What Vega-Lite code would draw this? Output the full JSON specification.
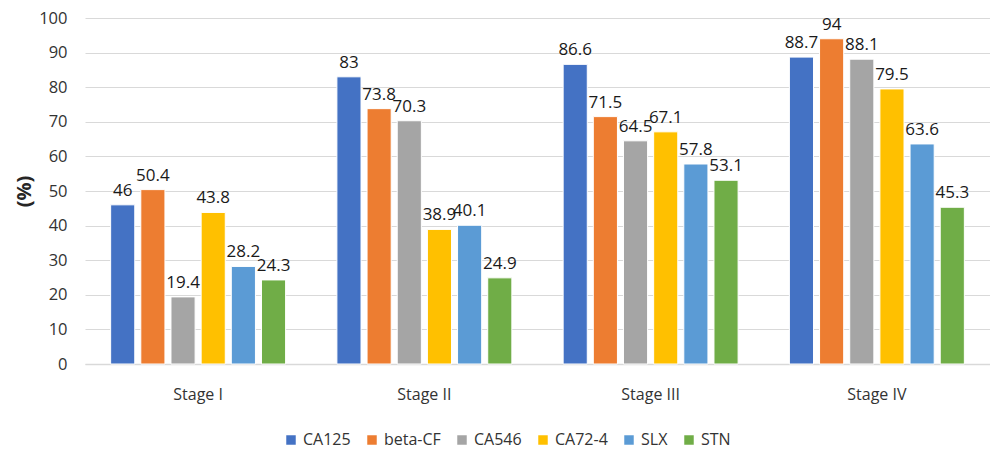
{
  "$schema": "https://vega.github.io/schema/vega-lite/v6.json",
  "autosize": {"type": "none"},
  "width": 905,
  "height": 346,
  "padding": {"left": 85, "top": 18, "right": 0, "bottom": 85},
  "background": "white",
  "config": {
    "font": "Open Sans",
    "view": {"stroke": null}
  },
  "data": {
    "values": [
      {"stage": "Stage I", "marker": "CA125", "value": 46},
      {"stage": "Stage I", "marker": "beta-CF", "value": 50.4},
      {"stage": "Stage I", "marker": "CA546", "value": 19.4},
      {"stage": "Stage I", "marker": "CA72-4", "value": 43.8},
      {"stage": "Stage I", "marker": "SLX", "value": 28.2},
      {"stage": "Stage I", "marker": "STN", "value": 24.3},
      {"stage": "Stage II", "marker": "CA125", "value": 83},
      {"stage": "Stage II", "marker": "beta-CF", "value": 73.8},
      {"stage": "Stage II", "marker": "CA546", "value": 70.3},
      {"stage": "Stage II", "marker": "CA72-4", "value": 38.9},
      {"stage": "Stage II", "marker": "SLX", "value": 40.1},
      {"stage": "Stage II", "marker": "STN", "value": 24.9},
      {"stage": "Stage III", "marker": "CA125", "value": 86.6},
      {"stage": "Stage III", "marker": "beta-CF", "value": 71.5},
      {"stage": "Stage III", "marker": "CA546", "value": 64.5},
      {"stage": "Stage III", "marker": "CA72-4", "value": 67.1},
      {"stage": "Stage III", "marker": "SLX", "value": 57.8},
      {"stage": "Stage III", "marker": "STN", "value": 53.1},
      {"stage": "Stage IV", "marker": "CA125", "value": 88.7},
      {"stage": "Stage IV", "marker": "beta-CF", "value": 94},
      {"stage": "Stage IV", "marker": "CA546", "value": 88.1},
      {"stage": "Stage IV", "marker": "CA72-4", "value": 79.5},
      {"stage": "Stage IV", "marker": "SLX", "value": 63.6},
      {"stage": "Stage IV", "marker": "STN", "value": 45.3}
    ]
  },
  "encoding": {
    "x": {
      "field": "stage", "type": "nominal", "sort": null,
      "scale": {"paddingInner": 0.2, "paddingOuter": 0.1},
      "axis": {
        "title": null, "labelAngle": 0, "labelFontSize": 16, "labelColor": "#333333",
        "labelPadding": 22, "ticks": false, "domainColor": "#d9d9d9", "domainWidth": 1.5
      }
    },
    "xOffset": {
      "field": "marker", "type": "nominal", "sort": ["CA125", "beta-CF", "CA546", "CA72-4", "SLX", "STN"],
      "scale": {"paddingInner": 0.2, "paddingOuter": 0.1}
    },
    "y": {
      "field": "value", "type": "quantitative",
      "scale": {"domain": [0, 100], "nice": false},
      "axis": {
        "title": "(%)", "titleFontSize": 20, "titleFontWeight": "bold", "titleColor": "#262626",
        "titlePadding": 4,
        "values": [0, 10, 20, 30, 40, 50, 60, 70, 80, 90, 100],
        "labelFontSize": 16.5, "labelColor": "#333333", "labelPadding": 18,
        "domain": false, "ticks": false, "gridColor": "#d9d9d9", "gridWidth": 1
      }
    }
  },
  "layer": [
    {
      "mark": {"type": "bar", "stroke": "white", "strokeWidth": 1},
      "encoding": {
        "color": {
          "field": "marker", "type": "nominal",
          "sort": ["CA125", "beta-CF", "CA546", "CA72-4", "SLX", "STN"],
          "scale": {
            "domain": ["CA125", "beta-CF", "CA546", "CA72-4", "SLX", "STN"],
            "range": ["#4472C4", "#ED7D31", "#A5A5A5", "#FFC000", "#5B9BD5", "#70AD47"]
          },
          "legend": {
            "title": null, "orient": "none", "direction": "horizontal",
            "legendX": 198, "legendY": 414,
            "symbolType": "square", "symbolSize": 90, "symbolStrokeWidth": 0,
            "labelFontSize": 16, "labelColor": "#333333", "columnPadding": 13,
            "labelOffset": 4
          }
        }
      }
    },
    {
      "mark": {"type": "text", "baseline": "bottom", "dy": -5, "fontSize": 17, "color": "#1a1a1a"},
      "encoding": {
        "text": {"field": "value", "type": "quantitative"}
      }
    }
  ]
}
